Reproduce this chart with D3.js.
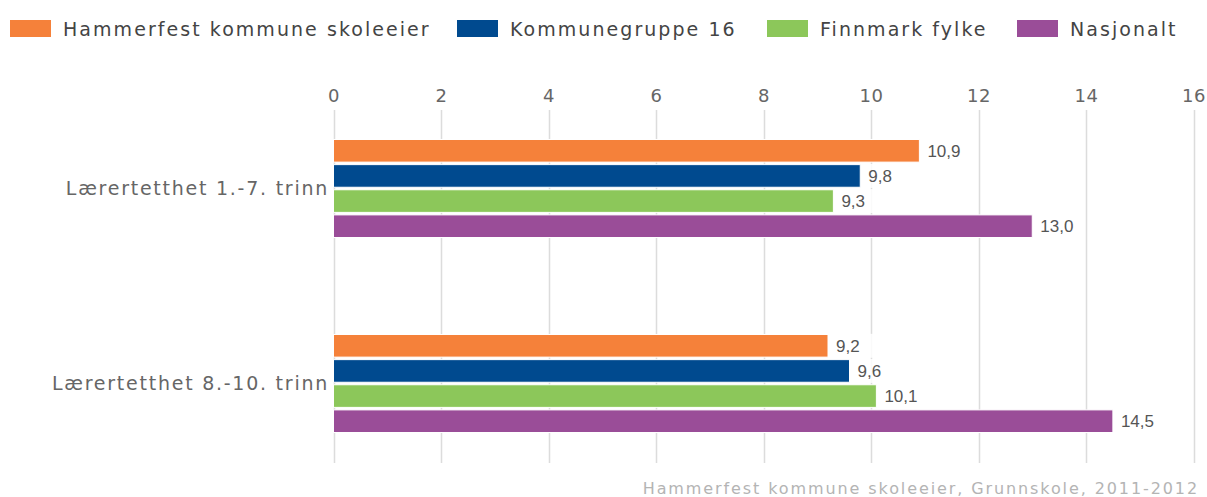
<!DOCTYPE html>
<html><head><meta charset="utf-8">
<script src="https://cdn.jsdelivr.net/npm/d3@7"></script>
<style>body{margin:0;background:#fff}svg{display:block}</style>
</head><body>
<script>
const categories = ["Lærertetthet 1.-7. trinn", "Lærertetthet 8.-10. trinn"];
const seriesNames = ["Hammerfest kommune skoleeier", "Kommunegruppe 16", "Finnmark fylke", "Nasjonalt"];
const seriesColors = ["#f5813a", "#004a8f", "#8cc75a", "#9a4d98"];
const hammerfest = [10.9, 9.2];
const kommunegruppe = [9.8, 9.6];
const finnmark = [9.3, 10.1];
const nasjonalt = [13.0, 14.5];
const xTicks = [0, 2, 4, 6, 8, 10, 12, 14, 16];
const footer = "Hammerfest kommune skoleeier, Grunnskole, 2011-2012";

const seriesValues = [hammerfest, kommunegruppe, finnmark, nasjonalt];
const W = 1207, H = 497;
const FONT = "DejaVu Sans";
const svg = d3.select("body").append("svg").attr("width", W).attr("height", H);

const x = d3.scaleLinear().domain([0, 16]).range([333.5, 1193.5]);
const y = d3.scaleBand().domain(categories).range([91, 481]);
const yi = d3.scaleBand().domain(seriesNames).range([48.5, 146.5]).paddingInner(0.1);

// gridlines
svg.append("g").selectAll("line").data(xTicks).join("line")
  .attr("x1", d => Math.round(x(d)) + 0.5).attr("x2", d => Math.round(x(d)) + 0.5)
  .attr("y1", 110).attr("y2", 463)
  .attr("stroke", "#dcdcdc").attr("stroke-width", 1.5);

// axis labels on top
const axis = d3.axisTop(x).tickValues(xTicks).tickSize(0).tickPadding(0).tickFormat(d3.format("d"));
const ag = svg.append("g").attr("transform", "translate(0,102)").call(axis);
ag.select(".domain").remove();
ag.selectAll("text").attr("font-family", FONT).attr("font-size", 18)
  .attr("fill", "#666").attr("dy", 0).attr("letter-spacing", 0.5);

// bars
const data = [];
categories.forEach((c, ci) => seriesNames.forEach((s, si) => data.push({c, s, si, v: seriesValues[si][ci]})));
svg.append("g").selectAll("rect").data(data).join("rect")
  .attr("x", x(0)).attr("y", d => y(d.c) + yi(d.s))
  .attr("width", d => x(d.v) - x(0)).attr("height", yi.bandwidth())
  .attr("fill", d => seriesColors[d.si]).attr("stroke", "#fff").attr("stroke-width", 1);

// value labels
const fmt = v => d3.format(".1f")(v).replace(".", ",");
const lab = svg.append("g").selectAll("g").data(data).join("g")
  .attr("transform", d => `translate(${x(d.v) + 8},${y(d.c) + yi(d.s) + yi.bandwidth() / 2})`);
lab.append("rect").attr("x", -5).attr("y", -12).attr("width", 45).attr("height", 24).attr("fill", "#fff").attr("opacity", 0.85);
lab.append("text").text(d => fmt(d.v)).attr("dy", "0.35em")
  .attr("font-family", "Liberation Sans, Arial").attr("font-size", 17).attr("fill", "#555");

// category labels
svg.append("g").selectAll("text").data(categories).join("text")
  .attr("x", 329).attr("y", d => y(d) + y.bandwidth() / 2).attr("dy", "0.35em")
  .attr("text-anchor", "end").text(d => d)
  .attr("font-family", FONT).attr("font-size", 19).attr("fill", "#666").attr("letter-spacing", 1.75);

// legend
const legendX = [10, 457, 767, 1017];
const lg = svg.append("g").selectAll("g").data(seriesNames).join("g")
  .attr("transform", (d, i) => `translate(${legendX[i]},20)`);
lg.append("rect").attr("width", 41).attr("height", 17).attr("fill", (d, i) => seriesColors[i]);
lg.append("text").attr("x", 53).attr("y", 15.5).text(d => d)
  .attr("font-family", FONT).attr("font-size", 19).attr("fill", "#444").attr("letter-spacing", 2.05);

// footer
svg.append("text").attr("x", 1199).attr("y", 494).attr("text-anchor", "end").text(footer)
  .attr("font-family", FONT).attr("font-size", 16).attr("fill", "#b4b4b4").attr("letter-spacing", 1.9);
</script>
</body></html>
